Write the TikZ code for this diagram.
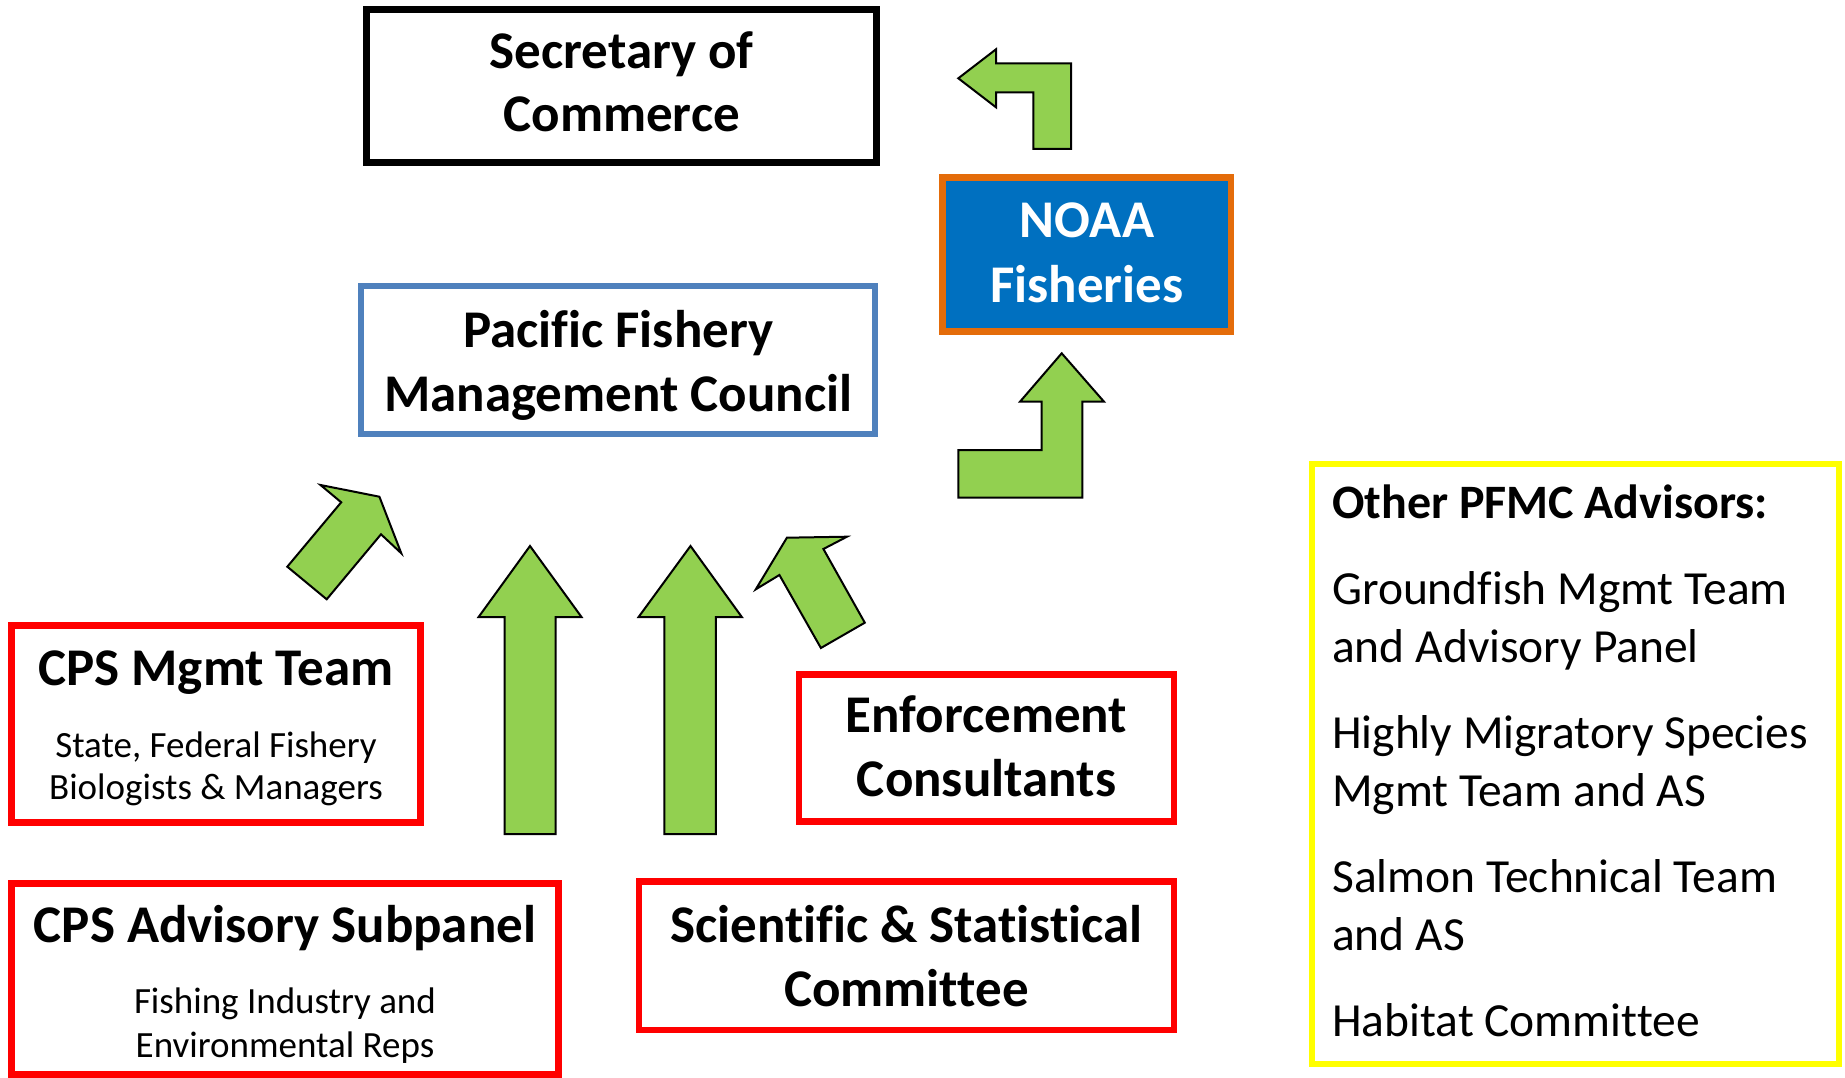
\documentclass[tikz,border=0pt]{standalone}
\usepackage{fontspec}
\setmainfont{Carlito}[Ligatures=NoCommon]
\definecolor{boxred}{HTML}{FF0000}
\definecolor{boxblue}{HTML}{4F81BD}
\definecolor{noaafill}{HTML}{0070C0}
\definecolor{noaaedge}{HTML}{E46C0A}
\definecolor{arrowgreen}{HTML}{92D050}
\definecolor{boxyellow}{HTML}{FFFF00}
\begin{document}
\begin{tikzpicture}[x=1pt,y=-1pt,
  frame/.style={rectangle, inner sep=0pt, outer sep=0pt},
  redframe/.style={frame, draw=boxred, line width=6.7pt},
  title/.style={anchor=base, inner sep=0pt, font=\fontsize{53}{64}\selectfont\bfseries},
  sub/.style={anchor=base, inner sep=0pt, font=\fontsize{37}{44}\selectfont},
  side/.style={anchor=base west, inner sep=0pt, font=\fontsize{47.5}{58}\selectfont},
  sidehead/.style={anchor=base west, inner sep=0pt, font=\fontsize{48}{58}\selectfont\bfseries},
  blockarrow/.style={fill=arrowgreen, draw=black, line width=2pt, line join=miter}
]
\useasboundingbox (0,0) rectangle (1845,1078);

% boxes
\node[frame, draw=black, line width=7pt, minimum width=510pt, minimum height=153pt] (sec) at (621.75,86) {};
\node[frame, draw=boxblue, line width=6pt, minimum width=513.7pt, minimum height=148.6pt] (pfmc) at (618.2,360) {};
\node[frame, fill=noaafill, draw=noaaedge, line width=6.7pt, minimum width=288.3pt, minimum height=154pt] (noaa) at (1086.8,254.7) {};
\node[redframe, minimum width=409pt, minimum height=197pt] (mgmt) at (216.2,723.8) {};
\node[redframe, minimum width=546.8pt, minimum height=191.2pt] (adv) at (285.1,978.9) {};
\node[redframe, minimum width=375pt, minimum height=147.4pt] (enf) at (986.5,748) {};
\node[redframe, minimum width=535pt, minimum height=148.2pt] (ssc) at (906.5,955.9) {};
\node[frame, draw=boxyellow, line width=6pt, minimum width=527pt, minimum height=600pt] (other) at (1575.5,764) {};

% texts
\node[title] (secA) at (621.75,69) {Secretary of};
\node[title] (secB) at (621.75,132) {Commerce};
\node[title] (pfmcA) at (618.25,347) {Pacific Fishery};
\node[title] (pfmcB) at (618.25,411) {Management Council};
\node[title, text=white] (noaaA) at (1087,238) {NOAA};
\node[title, text=white] (noaaB) at (1087,302) {Fisheries};
\node[title] (mgmtA) at (216,685) {CPS Mgmt Team};
\node[sub] (mgmtB) at (216,757) {State, Federal Fishery};
\node[sub] (mgmtC) at (216,799) {Biologists \& Managers};
\node[title] (advA) at (285,942) {CPS Advisory Subpanel};
\node[sub] (advB) at (285,1013) {Fishing Industry and};
\node[sub] (advC) at (285,1057) {Environmental Reps};
\node[title] (enfA) at (986.5,732) {Enforcement};
\node[title] (enfB) at (986.5,796) {Consultants};
\node[title] (sscA) at (906.5,942.5) {Scientific \& Statistical};
\node[title] (sscB) at (906.5,1006) {Committee};
\node[sidehead] (oth0) at (1332,518) {Other PFMC Advisors:};
\node[side] (oth1) at (1332,604) {Groundfish Mgmt Team};
\node[side] (oth2) at (1332,662) {and Advisory Panel};
\node[side] (oth3) at (1332,748) {Highly Migratory Species};
\node[side] (oth4) at (1332,806) {Mgmt Team and AS};
\node[side] (oth5) at (1332,892) {Salmon Technical Team};
\node[side] (oth6) at (1332,950) {and AS};
\node[side] (oth7) at (1332,1036) {Habitat Committee};

% block arrows
\draw[blockarrow] (958.3,78.3) -- (996,49.3) -- (996,63.3) -- (1071,63.3) -- (1071,149) -- (1033.3,149) -- (1033.3,92.3) -- (996,92.3) -- (996,107.3) -- cycle;
\draw[blockarrow] (1061.7,353.3) -- (1104,401.7) -- (1082.3,401.7) -- (1082.3,497.7) -- (958.3,497.7) -- (958.3,450) -- (1041.7,450) -- (1041.7,401.7) -- (1020,401.7) -- cycle;
\draw[blockarrow] (530,546) -- (581.5,617) -- (555.7,617) -- (555.7,834) -- (504.5,834) -- (504.5,617) -- (478.6,617) -- cycle;
\draw[blockarrow] (690.5,546) -- (741.8,617) -- (715.8,617) -- (715.8,834) -- (664.3,834) -- (664.3,617) -- (638.6,617) -- cycle;
\draw[blockarrow] (320.5,485) -- (379.4,496.7) -- (401.3,553.3) -- (381,534.3) -- (326.7,599.3) -- (287.3,566.7) -- (341.2,502.3) -- cycle;
\draw[blockarrow] (786.9,537.7) -- (847,536.7) -- (823.4,549) -- (864.8,622.7) -- (820.9,648) -- (779.4,575) -- (755.8,589.3) -- cycle;
\end{tikzpicture}
\end{document}
